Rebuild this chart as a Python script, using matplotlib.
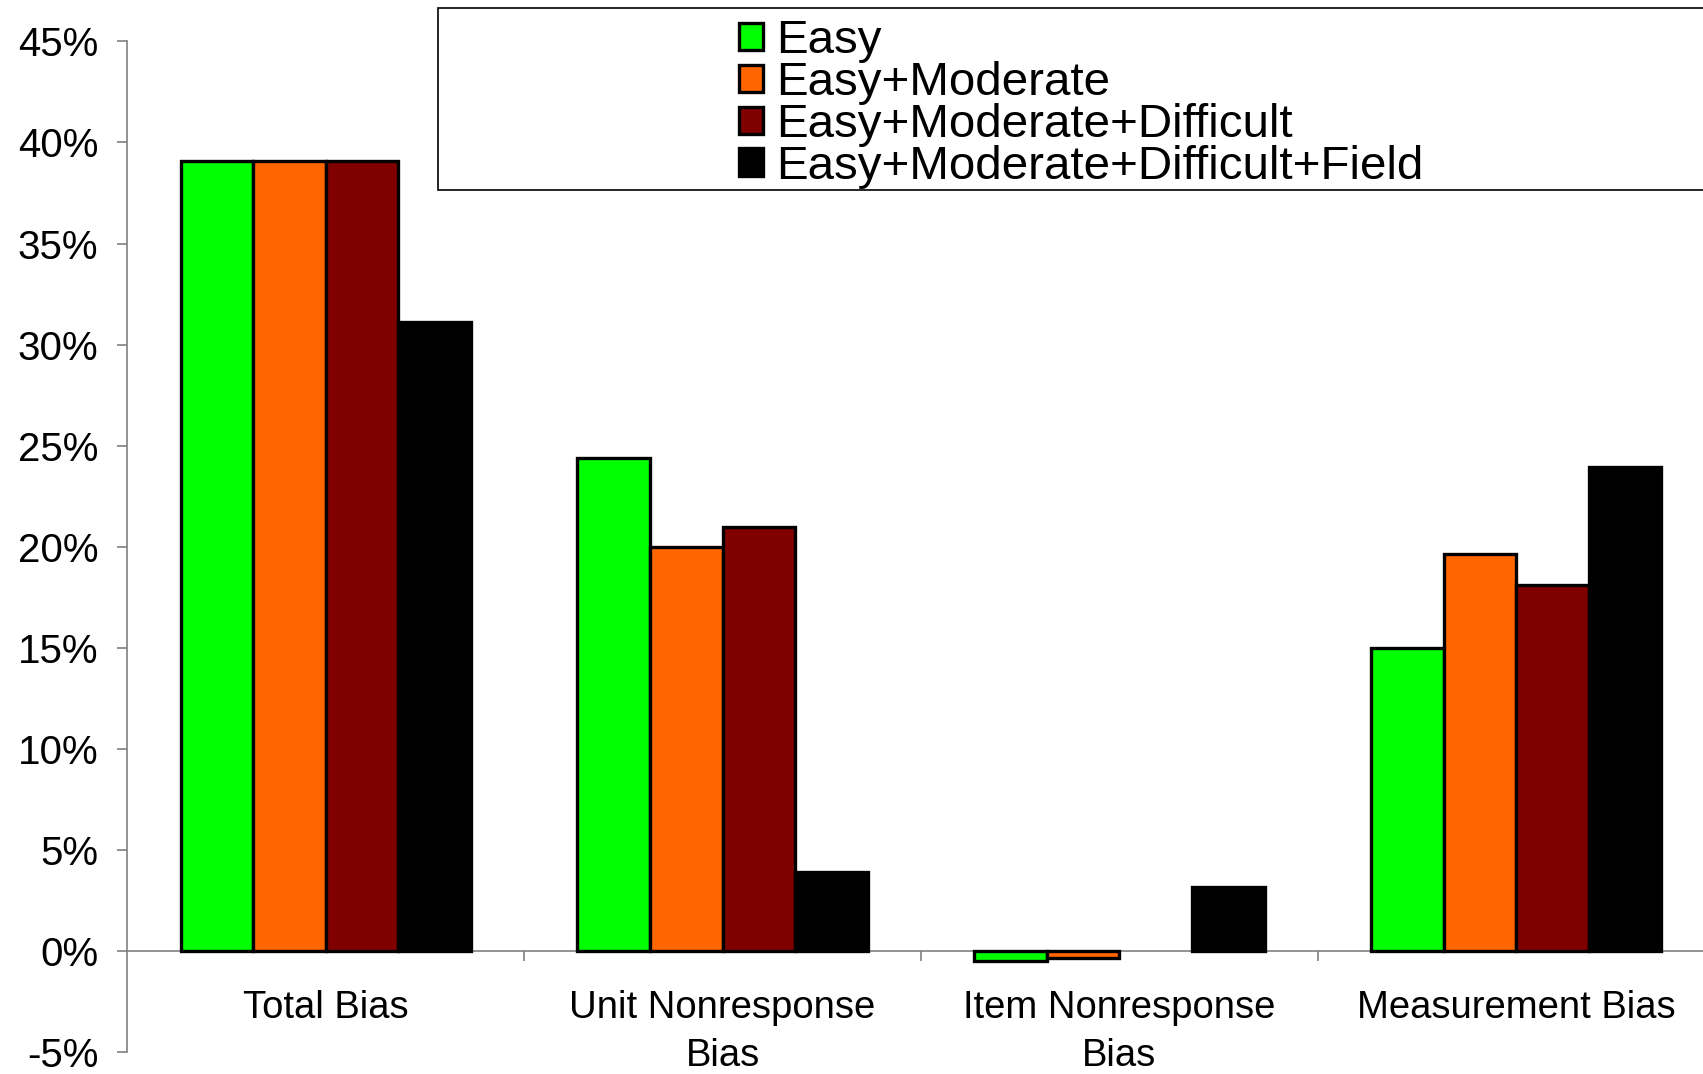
import numpy as np
import matplotlib.pyplot as plt
from matplotlib.patches import Rectangle
from matplotlib.ticker import FuncFormatter

plt.rcParams['font.family'] = ['Liberation Sans', 'DejaVu Sans']

categories = ["Total Bias", "Unit Nonresponse\nBias", "Item Nonresponse\nBias", "Measurement Bias"]
series = ["Easy", "Easy+Moderate", "Easy+Moderate+Difficult", "Easy+Moderate+Difficult+Field"]
easy = [39.1, 24.4, -0.5, 15.0]
easy_mod = [39.1, 20.0, -0.35, 19.65]
easy_mod_diff = [39.1, 21.0, 0.0, 18.1]
easy_mod_diff_field = [31.1, 3.9, 3.2, 23.95]
colors = ["#00ff00", "#ff6600", "#800000", "#000000"]

values = [easy, easy_mod, easy_mod_diff, easy_mod_diff_field]

fig = plt.figure(figsize=(17.03, 10.74), dpi=100)
ax = fig.add_axes([0.0748, 0.0201, 0.932, 0.9414])

x = np.arange(len(categories))
w = 0.183
for i, (vals, name, c) in enumerate(zip(values, series, colors)):
    # zero-height bars get no outline
    lw = [2.4 if v != 0 else 0 for v in vals]
    ax.bar(x + (i - 1.5) * w, vals, w, color=c, edgecolor='black',
           linewidth=lw, label=name, zorder=2)

ax.set_xlim(-0.5, 3.5)
ax.set_ylim(-5, 45)
ax.set_yticks(np.arange(-5, 46, 5))
ax.yaxis.set_major_formatter(FuncFormatter(lambda v, p: "%d%%" % v))

for s in ['top', 'right']:
    ax.spines[s].set_visible(False)
ax.spines['bottom'].set_position(('data', 0))
for s in ['left', 'bottom']:
    ax.spines[s].set_color('#808080')
    ax.spines[s].set_linewidth(1.2)
    ax.spines[s].set_zorder(1)

ax.set_xticks([0.5, 1.5, 2.5])
ax.set_xticklabels([])
ax.set_xticks(x, minor=True)
ax.set_xticklabels(categories, minor=True, fontsize=27.5, linespacing=1.42)
ax.tick_params(axis='x', which='major', direction='out', length=7, width=1.2, color='#808080')
ax.tick_params(axis='x', which='minor', length=0, pad=28)
ax.tick_params(axis='y', direction='out', length=7, width=1.2, color='#808080',
               labelsize=29, pad=14)

# legend box runs off the right side of the figure
fig.patches.append(Rectangle((0.257, 0.823), 0.8, 0.17, transform=fig.transFigure,
                             facecolor='white', edgecolor='black', linewidth=1.2, zorder=3))
leg = fig.legend(loc='upper left', bbox_to_anchor=(0.4337, 0.982), frameon=False,
                 fontsize=34.2, handlelength=0.51, handleheight=0.51, handletextpad=0.29,
                 labelspacing=-0.045, borderpad=0, borderaxespad=0)
leg.set_zorder(4)

fig.savefig("out.png", dpi=100)
